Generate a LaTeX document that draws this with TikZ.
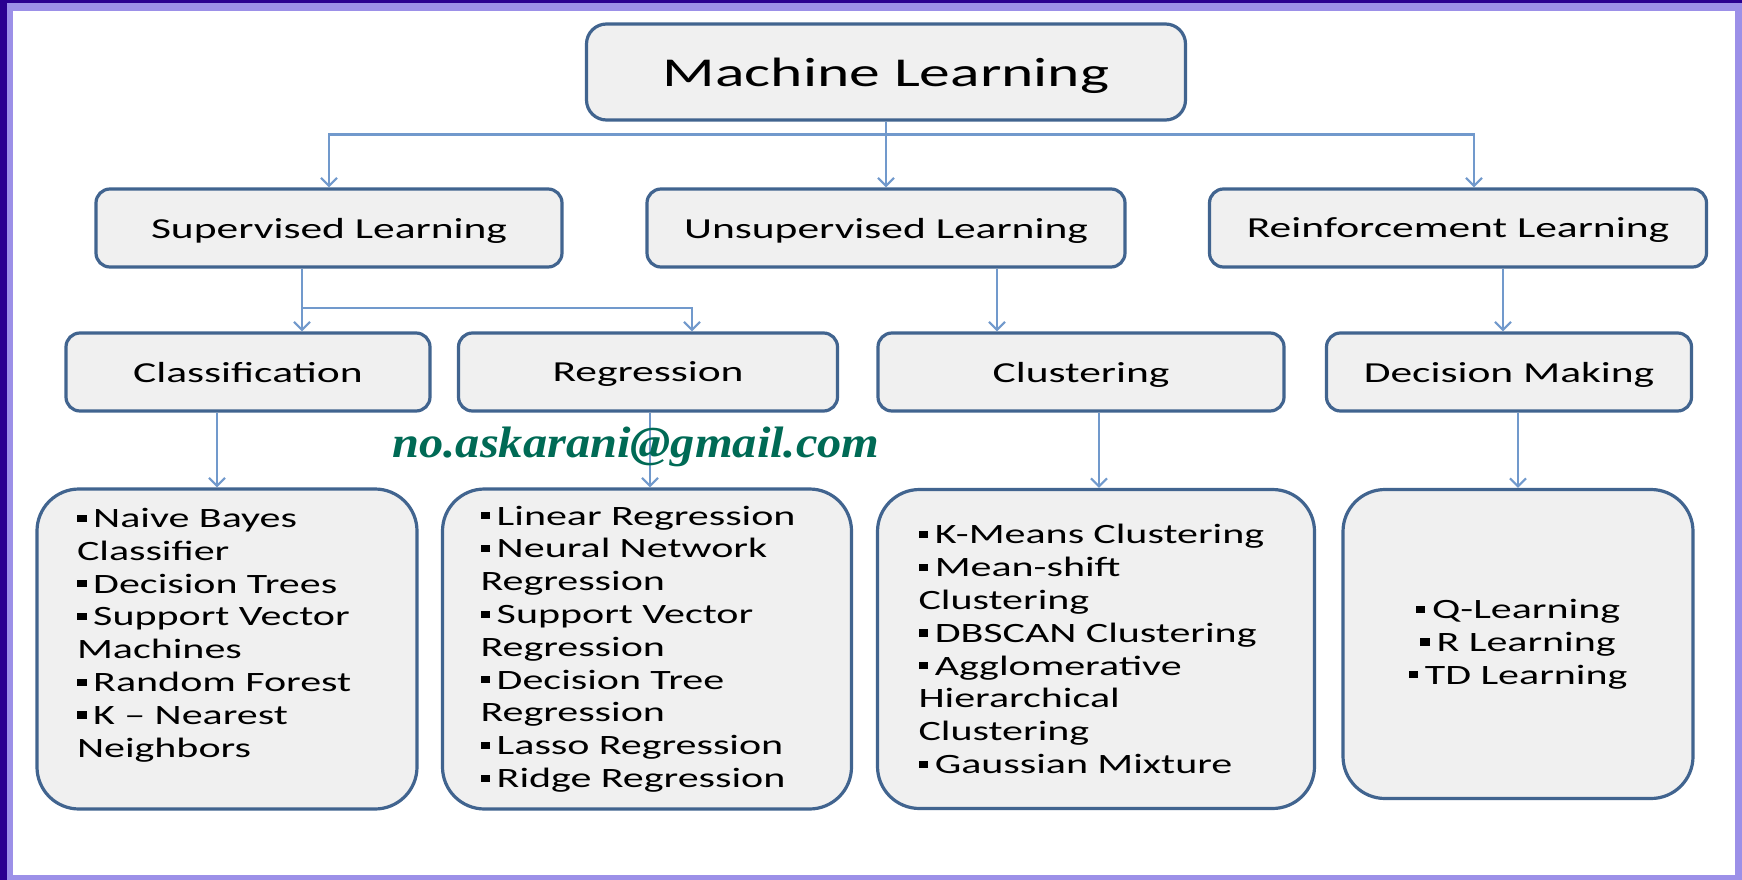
\documentclass[tikz,border=0pt]{standalone}
\usepackage{fontspec}
\setmainfont{Carlito}[FakeStretch=1.5]
\newfontfamily\mailfont{Liberation Serif}[FakeStretch=1.1]
\usetikzlibrary{arrows.meta,calc}
\definecolor{framedark}{HTML}{2A0090}
\definecolor{framelight}{HTML}{9C90E8}
\definecolor{boxfill}{HTML}{F0F0F0}
\definecolor{boxline}{HTML}{41648F}
\definecolor{linkblue}{HTML}{7199CC}
\definecolor{mailgreen}{HTML}{006A55}
\newcommand{\sqb}{\raisebox{0.2em}{\rule{0.34em}{0.26em}}\hspace{0.24em}}

\begin{document}
\begin{tikzpicture}[x=1pt, y=-1pt,
    box/.style={draw=boxline, fill=boxfill, line width=3.2pt, inner sep=0pt, text=black},
    head/.style={box, rounded corners=14pt, minimum height=78pt, text depth=0pt, font=\fontsize{29}{34}\selectfont},
    listbox/.style={box, rounded corners=42pt, align=left, font=\fontsize{28}{32.8}\selectfont},
    conn/.style={draw=linkblue, line width=2.2pt, -{Straight Barb[length=8pt,width=16pt]}}]
        \useasboundingbox (0,0) rectangle (1742,880);

        % frame
        \fill[framedark] (0,0) rectangle (1742,880);
        \fill[framelight] (7,3) rectangle (1742,880);
        \fill[white] (13,11) rectangle (1735,875);

        % boxes
        \node[box, rounded corners=20pt, minimum width=599pt, minimum height=96pt, text depth=0pt,
              font=\fontsize{41}{48}\selectfont] (ml) at (886,72) {Machine Learning};

        \node[head, minimum width=466pt] (sup) at (329,228) {Supervised Learning};
        \node[head, minimum width=478pt] (unsup) at (886,228) {Unsupervised Learning};
        \node[head, minimum width=497pt] (reinf) at (1458,228) {Reinforcement Learning};

        \node[head, minimum width=364pt] (class) at (248,372) {Classification};
        \node[head, minimum width=379pt] (regr) at (648,372) {Regression};
        \node[head, minimum width=406pt] (clust) at (1081,372) {Clustering};
        \node[head, minimum width=365pt] (decis) at (1509,372) {Decision Making};

        \node[listbox, minimum width=380pt, minimum height=320pt, text width=300pt] (classlist) at (227,649)
            {\sqb Naive Bayes\\Classifier\\\sqb Decision Trees\\\sqb Support Vector\\Machines\\\sqb Random Forest\\\sqb K – Nearest\\Neighbors\\\mbox{}};
        \node[listbox, minimum width=409pt, minimum height=320pt, text width=333pt] (regrlist) at (647,649)
            {\sqb Linear Regression\\\sqb Neural Network\\Regression\\\sqb Support Vector\\Regression\\\sqb Decision Tree\\Regression\\\sqb Lasso Regression\\\sqb Ridge Regression};
        \node[listbox, minimum width=437pt, minimum height=319pt, text width=355pt] (clustlist) at (1096,649)
            {\sqb K-Means Clustering\\\sqb Mean-shift\\Clustering\\\sqb DBSCAN Clustering\\\sqb Agglomerative\\Hierarchical\\Clustering\\\sqb Gaussian Mixture};
        \node[listbox, align=center, minimum width=350pt, minimum height=309pt] (decislist) at (1518,644)
            {\sqb Q-Learning\\\sqb R Learning\\\sqb TD Learning};

        % connectors
        \draw[conn] (ml.south) -- (unsup.north);
        \draw[conn] (ml.south) -- ++(0,13) -| (sup.north);
        \draw[conn] (ml.south) -- ++(0,13) -| ($(reinf.north)+(16,0)$);

        \draw[conn] ($(sup.south)+(-27,0)$) -- ($(class.north)+(54,0)$);
        \draw[conn] ($(sup.south)+(-27,0)$) -- ++(0,39) -| ($(regr.north)+(44,0)$);
        \draw[conn] ($(unsup.south)+(111,0)$) -- ($(clust.north)+(-84,0)$);
        \draw[conn] ($(reinf.south)+(45,0)$) -- ($(decis.north)+(-6,0)$);

        \draw[conn] ($(class.south)+(-31,0)$) -- ($(classlist.north)+(-10,0)$);
        \draw[conn] ($(regr.south)+(2,0)$) -- ($(regrlist.north)+(3,0)$);
        \draw[conn] ($(clust.south)+(18,0)$) -- ($(clustlist.north)+(3,0)$);
        \draw[conn] ($(decis.south)+(9,0)$) -- (decislist.north);

        % mail
        \node[font=\mailfont\bfseries\itshape\fontsize{44}{50}\selectfont, text=mailgreen, anchor=base]
            (mail) at (636,457) {no.askarani@gmail.com};
\end{tikzpicture}
\end{document}
